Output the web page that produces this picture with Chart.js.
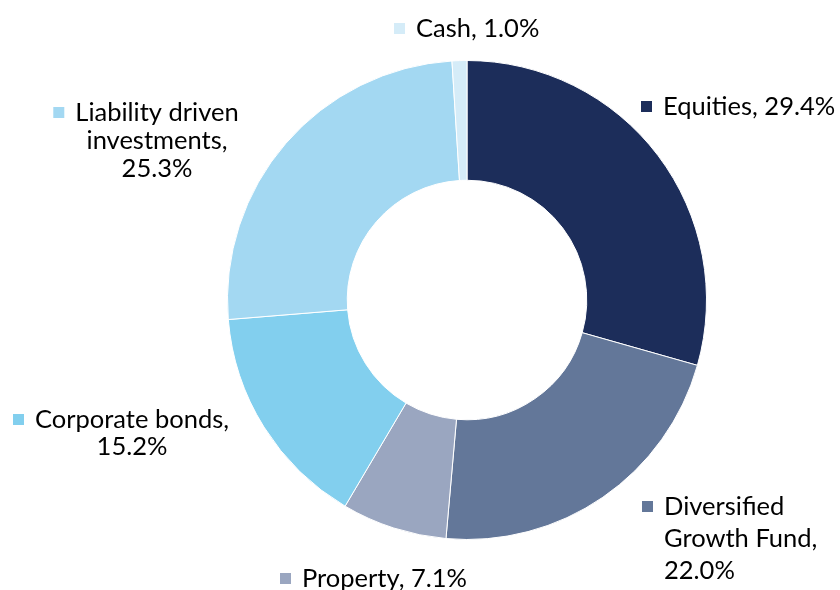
<!DOCTYPE html>
<html>
<head>
<meta charset="utf-8">
<script src="https://cdn.jsdelivr.net/npm/chart.js@4"></script>
<style>
  html, body { margin: 0; padding: 0; background: #fff; }
  #wrap { width: 840px; height: 590px; }
</style>
</head>
<body>
<div id="wrap"><canvas id="chart" width="840" height="590"></canvas></div>
<script>
// data, clockwise from 12 o'clock
const categories = ['Equities', 'Diversified Growth Fund', 'Property', 'Corporate bonds', 'Liability driven investments', 'Cash'];
const shares = [29.4, 22.0, 7.1, 15.2, 25.3, 1.0];
const colors = ['#1c2d5a', '#637799', '#9aa6c0', '#82cfee', '#a3d8f2', '#d5ecf8'];

// where each label sits (x, y of first line centre), how it wraps
const labelLayout = [
    { x: 663, y: 106, align: 'left', wrap: 400, lh: 28 },
    { x: 664, y: 506, align: 'left', wrap: 170, lh: 32 },
    { x: 302, y: 578, align: 'left', wrap: 400, lh: 28 },
    { x: 132, y: 419, align: 'center', wrap: 220, lh: 27 },
    { x: 157, y: 112, align: 'center', wrap: 185, lh: 28 },
    { x: 416, y: 28, align: 'left', wrap: 400, lh: 28 },
];

const FONT = '25.5px Lato';

function wrapText(ctx, text, maxW) {
    const words = text.split(' ');
    const lines = [];
    let cur = '';
    words.forEach(w => {
        const test = cur ? cur + ' ' + w : w;
        if (cur && ctx.measureText(test).width > maxW) {
            lines.push(cur);
            cur = w;
        } else {
            cur = test;
        }
    });
    if (cur) lines.push(cur);
    return lines;
}

const sliceLabels = {
    id: 'sliceLabels',
    afterDraw(chart) {
        const ctx = chart.ctx;
        ctx.save();
        ctx.font = FONT;
        ctx.fillStyle = '#000';
        ctx.textBaseline = 'middle';
        categories.forEach((cat, i) => {
            const lay = labelLayout[i];
            const text = `${cat}, ${shares[i].toFixed(1)}%`;
            const lines = wrapText(ctx, text, lay.wrap);
            lines.forEach((line, j) => {
                const w = ctx.measureText(line).width;
                const left = lay.align === 'center' ? lay.x - w / 2 : lay.x;
                const y = lay.y + j * lay.lh;
                ctx.textAlign = 'left';
                ctx.fillText(line, left, y + 1);
                if (j === 0) {
                    ctx.fillStyle = colors[i];
                    ctx.fillRect(left - 22, y - 5, 11, 11);
                    ctx.fillStyle = '#000';
                }
            });
        });
        ctx.restore();
    }
};

const config = {
    type: 'doughnut',
    data: {
        labels: categories,
        datasets: [{
            data: shares,
            backgroundColor: colors,
            borderColor: '#ffffff',
            borderWidth: 1,
            hoverOffset: 0,
        }]
    },
    options: {
        responsive: false,
        animation: { duration: 0 },
        cutout: '50%',
        layout: {
            padding: { left: 227, right: 133, top: 60, bottom: 50 }
        },
        plugins: {
            legend: { display: false },
            tooltip: { enabled: false },
        }
    },
    plugins: [sliceLabels],
};

const chart = new Chart(document.getElementById('chart'), config);
</script>
</body>
</html>
